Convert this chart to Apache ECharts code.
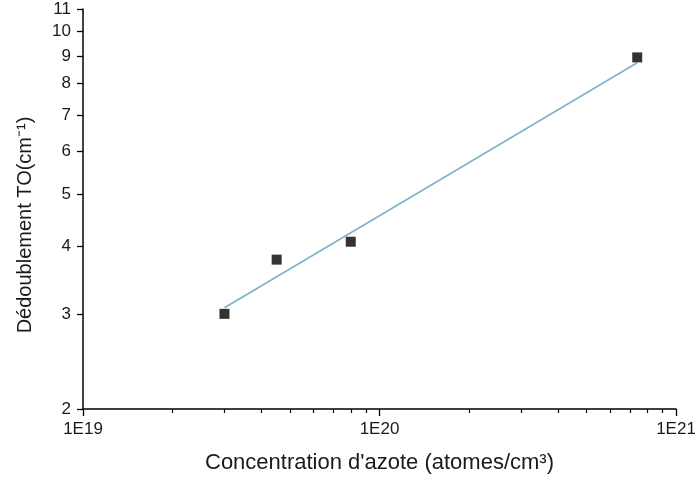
<!DOCTYPE html>
<html>
<head>
<meta charset="utf-8">
<script src="https://cdn.jsdelivr.net/npm/echarts@6/dist/echarts.min.js"></script>
<style>html,body{margin:0;padding:0;background:#fff}#c{width:695px;height:477px}</style>
</head>
<body>
<div id="c"></div>
<script>
// Data
const concentration = [3.0e19, 4.5e19, 8.0e19, 7.4e20];
const splitting = [3.0, 3.78, 4.08, 8.95];
// fitted line end points (as drawn)
const fitX = [3.0e19, 7.4e20];
const fitY = [3.08, 8.75];
// tick positions
const yTicks = [2, 3, 4, 5, 6, 7, 8, 9, 10, 10.9999];
const xMajor = [1e19, 1e20, 0.99999e21];
const xMinor = [2e19, 3e19, 4e19, 5e19, 6e19, 7e19, 8e19, 9e19, 2e20, 3e20, 4e20, 5e20, 6e20, 7e20, 8e20, 9e20];

const FONT = 'Liberation Sans, Arial, sans-serif';
const chart = echarts.init(document.getElementById('c'));
chart.setOption({
  animation: false,
  grid: { left: 83, right: 19, top: 9, bottom: 68, outerBoundsMode: 'none', containLabel: false },
  graphic: [{
    type: 'text', x: 25, y: 225, rotation: Math.PI / 2,
    style: { text: 'Dédoublement TO(cm⁻¹)', font: '20px Liberation Sans, Arial, sans-serif', fill: '#1a1a1a',
      align: 'center', verticalAlign: 'middle' }
  }],
  xAxis: [{
    type: 'log', logBase: 10, min: 1e19, max: 1e21,
    name: 'Concentration d\'azote (atomes/cm³)',
    nameLocation: 'middle', nameGap: 43,
    nameTextStyle: { fontFamily: FONT, fontSize: 22, color: '#1a1a1a' },
    axisLine: { lineStyle: { color: '#000', width: 1.5 } },
    axisTick: { show: false },
    axisLabel: { customValues: xMajor, margin: 12, fontFamily: FONT, fontSize: 17, color: '#1a1a1a',
      formatter: v => '1E' + Math.round(Math.log10(v)) },
    splitLine: { show: false }
  }, {
    type: 'log', logBase: 10, min: 1e19, max: 1e21, position: 'bottom',
    axisLine: { show: false },
    axisTick: { show: true, length: 7, customValues: xMajor, lineStyle: { color: '#000', width: 1.3 } },
    axisLabel: { show: false },
    splitLine: { show: false }
  }, {
    type: 'log', logBase: 10, min: 1e19, max: 1e21, position: 'bottom',
    axisLine: { show: false },
    axisTick: { show: true, length: 4, customValues: xMinor, lineStyle: { color: '#000', width: 1.2 } },
    axisLabel: { show: false },
    splitLine: { show: false }
  }],
  yAxis: [{
    type: 'log', logBase: 10, min: 2, max: 11,
    axisLine: { show: true, lineStyle: { color: '#000', width: 1.5 } },
    axisTick: { show: true, length: 6, customValues: yTicks, lineStyle: { color: '#000', width: 1.3 } },
    axisLabel: { customValues: yTicks, margin: 12, fontFamily: FONT, fontSize: 17, color: '#1a1a1a',
      formatter: v => String(Math.round(v)) },
    splitLine: { show: false }
  }],
  series: [{
    type: 'line',
    data: fitX.map((x, i) => [x, fitY[i]]),
    showSymbol: false, symbol: 'none',
    lineStyle: { color: '#7fb2c8', width: 1.6 },
    z: 2
  }, {
    type: 'scatter',
    data: concentration.map((x, i) => [x, splitting[i]]),
    symbol: 'rect', symbolSize: 10,
    itemStyle: { color: '#000' },
    z: 3
  }]
});
</script>
</body>
</html>
